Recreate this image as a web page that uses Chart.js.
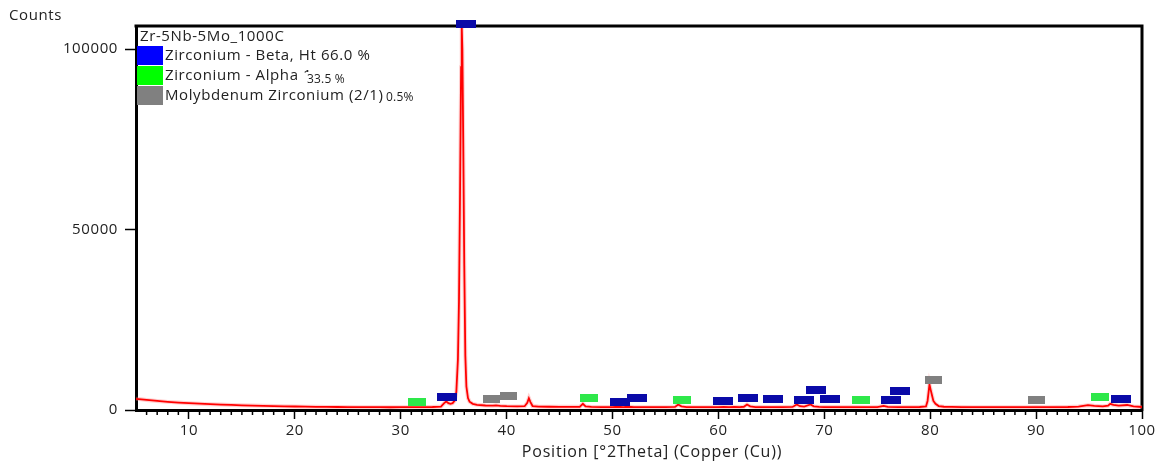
<!DOCTYPE html>
<html><head><meta charset="utf-8">
<script src="https://cdn.jsdelivr.net/npm/chart.js@4/dist/chart.umd.min.js"></script>
<style>html,body{margin:0;padding:0;background:#fff;}#wrap{width:1165px;height:465px;position:relative;}</style>
</head><body><div id="wrap"><canvas id="c" width="1165" height="465"></canvas></div>
<script>
// ---- data ----
const twoTheta = [5.0,5.5,6.0,7.0,8.0,9.0,10.0,11.0,12.0,13.0,14.0,15.0,16.0,17.0,18.0,19.0,20.0,21.0,22.0,23.0,24.0,25.0,26.0,27.0,28.0,29.0,30.0,31.0,32.0,33.0,33.8,34.1,34.3,34.5,34.7,34.9,35.1,35.25,35.4,35.5,35.6,35.7,35.76,35.82,35.9,36.0,36.1,36.2,36.35,36.5,36.8,37.2,38.0,38.7,39.0,39.4,40.0,41.0,41.7,41.95,42.1,42.25,42.45,43.0,44.0,45.0,46.0,46.9,47.2,47.45,48.0,49.0,50.0,50.5,51.0,51.5,52.0,53.0,54.0,55.0,55.9,56.2,56.5,57.0,58.0,59.0,60.0,60.5,61.0,61.5,62.0,62.4,62.7,63.0,63.5,64.0,65.0,66.0,67.0,67.4,67.7,68.1,68.7,69.0,69.5,70.0,71.0,72.0,73.0,74.0,75.0,75.6,76.0,77.0,78.0,79.0,79.6,79.75,79.85,79.93,80.05,80.15,80.3,80.5,80.8,81.3,82.0,83.0,84.0,85.0,86.0,87.0,88.0,89.0,90.0,91.0,92.0,93.0,94.0,94.9,95.5,96.3,96.8,97.0,97.3,97.8,98.6,99.2,100.0];
const counts = [3100,2950,2800,2500,2250,2050,1890,1750,1620,1500,1400,1300,1220,1150,1080,1020,970,930,890,860,830,800,780,790,770,760,780,790,800,830,950,1900,2360,1900,1720,1900,2600,5000,14000,30000,60000,95000,106400,100000,75000,40000,15000,6500,3300,2300,1700,1440,1250,1200,1300,1150,1050,1000,1050,2000,3270,2200,1100,950,900,880,870,880,1720,1000,850,820,820,900,820,900,800,780,780,780,850,1520,1000,800,780,790,800,880,800,870,800,900,1520,1000,820,800,790,800,850,1520,1050,950,1520,1000,850,820,800,820,800,790,800,1160,850,800,800,830,1000,2500,5000,7070,5500,4300,2500,1700,1100,900,850,800,790,780,780,790,780,790,800,790,800,830,950,1330,1150,1000,1200,1720,1400,1200,1390,1000,830];

const betaPos = [34.4,36.2,50.75,52.3,60.4,62.8,65.15,68.1,69.2,70.5,76.3,77.15,98.0];
const betaHt  = [3470,107080,2080,3190,2360,3190,2910,2635,5410,2910,2635,5130,2910];
const alphaPos = [31.5,47.8,56.6,73.5,96.0];
const alphaHt  = [2080,3190,2635,2635,3470];
const moZrPos = [38.6,40.2,80.3,90.0];
const moZrHt  = [2910,3745,8180,2635];

const xTickValues = [10,20,30,40,50,60,70,80,90,100];
const yTickValues = [0,50000,100000];

const sampleName = 'Zr-5Nb-5Mo_1000C';
const phaseNames = ['Zirconium - Beta, Ht 66.0 %','Zirconium - Alpha 1','Molybdenum Zirconium (2/1)'];
const phaseExtra = ['','33.5 %','0.5%'];
const yTitle = 'Counts';
const xTitle = 'Position [°2Theta] (Copper (Cu))';

// ---- styles ----
const FONT = '"Open Sans", "Noto Sans", sans-serif';
function rectImg(w,h,color){const c=document.createElement('canvas');c.width=w;c.height=h;const g=c.getContext('2d');g.fillStyle=color;g.fillRect(0,0,w,h);return c;}
const pts = (xs,ys)=>xs.map((x,i)=>({x:x,y:ys[i]}));

const framePlugin = {
  id:'frame',
  beforeDraw(chart){ chart.ctx.letterSpacing='0.6px'; },
  beforeDatasetsDraw(chart){
    const {ctx, chartArea:a, scales} = chart;
    ctx.save();
    ctx.strokeStyle='#000'; ctx.lineWidth=3;
    ctx.beginPath();
    ctx.moveTo(a.left-1.5,a.top); ctx.lineTo(a.right,a.top); ctx.lineTo(a.right,a.bottom+1.5);
    ctx.stroke();
    ctx.lineWidth=1.5;
    const xs = scales.x;
    for(let v=6; v<100; v++){
      if(v%10===0) continue;
      const px = xs.getPixelForValue(v);
      ctx.beginPath(); ctx.moveTo(px,a.bottom); ctx.lineTo(px,a.bottom+5); ctx.stroke();
    }
    ctx.restore();
  },
  afterDraw(chart){
    const {ctx} = chart;
    ctx.save();
    ctx.letterSpacing='0.6px';
    ctx.fillStyle='#222'; ctx.textBaseline='middle';
    ctx.font='15px '+FONT; ctx.textAlign='left';
    ctx.fillText(yTitle, 9, 16);
    ctx.save();
    ctx.letterSpacing='0.8px'; ctx.font='16px '+FONT; ctx.textAlign='center';
    ctx.fillText(xTitle, 652, 452);
    ctx.restore();
    ctx.textAlign='left';
    ctx.fillText(sampleName, 140, 37);
    const boxColors=['#0000ff','#00ff00','#808080'];
    const rowY=[46,66,86];
    for(let i=0;i<3;i++){
      ctx.fillStyle=boxColors[i]; ctx.fillRect(137,rowY[i],26,19);
      ctx.fillStyle='#222'; ctx.font='15px '+FONT;
      ctx.fillText(phaseNames[i],165,rowY[i]+10);
    }
    const extraX=[0,307,386], extraY=[0,80,98];
    ctx.font='12px '+FONT; ctx.letterSpacing='0.2px';
    for(let i=1;i<3;i++){
      const w=ctx.measureText(phaseExtra[i]).width;
      ctx.fillStyle='#fff'; ctx.fillRect(extraX[i]-1,extraY[i]-8,w+3,16);
      ctx.fillStyle='#222'; ctx.fillText(phaseExtra[i],extraX[i],extraY[i]);
    }
    ctx.restore();
  }
};

new Chart(document.getElementById('c'),{
  type:'scatter',
  data:{datasets:[
    {label:'halo',data:pts(twoTheta,counts),showLine:true,borderColor:'rgba(255,120,120,0.35)',borderWidth:4,pointRadius:0,tension:0,order:4},
    {label:'pattern',data:pts(twoTheta,counts),showLine:true,borderColor:'#ff0000',borderWidth:1.8,pointRadius:0,tension:0,order:3},
    {label:phaseNames[0],data:pts(betaPos,betaHt),pointStyle:rectImg(20,8,'#0a0aa8'),pointRadius:6,clip:false,order:1},
    {label:phaseNames[1],data:pts(alphaPos,alphaHt),pointStyle:rectImg(18,8,'#2ee84a'),pointRadius:6,clip:false,order:1},
    {label:phaseNames[2],data:pts(moZrPos,moZrHt),pointStyle:rectImg(17,8,'#808080'),pointRadius:6,clip:false,order:1}
  ]},
  options:{
    responsive:false, animation:false, events:[],
    layout:{padding:{left:0,right:23,top:26,bottom:0}},
    plugins:{legend:{display:false},tooltip:{enabled:false}},
    scales:{
      x:{type:'linear',min:5,max:100,
        afterBuildTicks:s=>{s.ticks=xTickValues.map(v=>({value:v}));},
        afterFit:s=>{s.height=55;},
        grid:{drawOnChartArea:false,tickLength:9,tickColor:'#000',tickWidth:1.5},
        border:{display:true,color:'#000',width:3},
        ticks:{color:'#222',font:{family:FONT,size:15},padding:3,maxRotation:0,autoSkip:false,callback:v=>String(v)}
      },
      y:{min:0,max:106400,
        afterBuildTicks:s=>{s.ticks=yTickValues.map(v=>({value:v}));},
        afterFit:s=>{s.width=136;},
        grid:{drawOnChartArea:false,tickLength:11,tickColor:'#000',tickWidth:1.5},
        border:{display:true,color:'#000',width:3},
        ticks:{color:'#222',font:{family:FONT,size:15},padding:7,callback:v=>String(v)}
      }
    }
  },
  plugins:[framePlugin]
});
</script></body></html>
